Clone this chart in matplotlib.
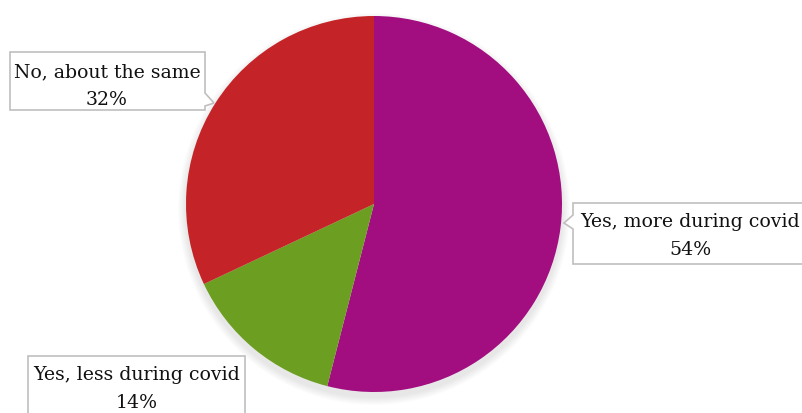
import matplotlib.pyplot as plt
from matplotlib.patches import Polygon, Circle

# data
labels = ["Yes, more during covid", "Yes, less during covid", "No, about the same"]
values = [54, 14, 32]
colors = ["#A20E7F", "#6C9E22", "#C42427"]

W, H = 802, 414
fig = plt.figure(figsize=(W / 100, H / 100), dpi=100)
ax = fig.add_axes([0, 0, 1, 1])

cx, cy, r = 374, H - 205, 188

# soft shadow under the pie
for i in range(8):
    ax.add_patch(Circle((cx, cy - 5), r + 8 - i, color="#000000", alpha=0.012, lw=0, zorder=0))

ax.pie(values, colors=colors, startangle=90, counterclock=False,
       center=(cx, cy), radius=r, frame=True,
       wedgeprops=dict(linewidth=0))
ax.set_xlim(0, W)
ax.set_ylim(0, H)
ax.set_aspect("equal")
ax.axis("off")


def callout(pts, name, pct, tx, ty):
    poly = Polygon([(x, H - y) for x, y in pts], closed=True, facecolor="white",
                   edgecolor="#BFBFBF", lw=1.2, zorder=3)
    ax.add_patch(poly)
    for line, yy in [(name, ty), (f"{pct}%", ty + 28)]:
        ax.text(tx, H - yy, line, ha="center", va="center", fontsize=13.6,
                family="DejaVu Serif", color="#111111", zorder=4)


# No, about the same
callout([(10, 53), (205, 53), (205, 94), (214, 104), (205, 107), (205, 111), (10, 111)],
        labels[2], values[2], 107, 72)
# Yes, more during covid
callout([(573, 204), (805, 204), (805, 265), (573, 265), (573, 230), (564, 224), (573, 216)],
        labels[0], values[0], 690, 222)
# Yes, less during covid
callout([(28, 357), (245, 357), (245, 420), (28, 420)],
        labels[1], values[1], 137, 375)

fig.savefig("out.png", dpi=100)
